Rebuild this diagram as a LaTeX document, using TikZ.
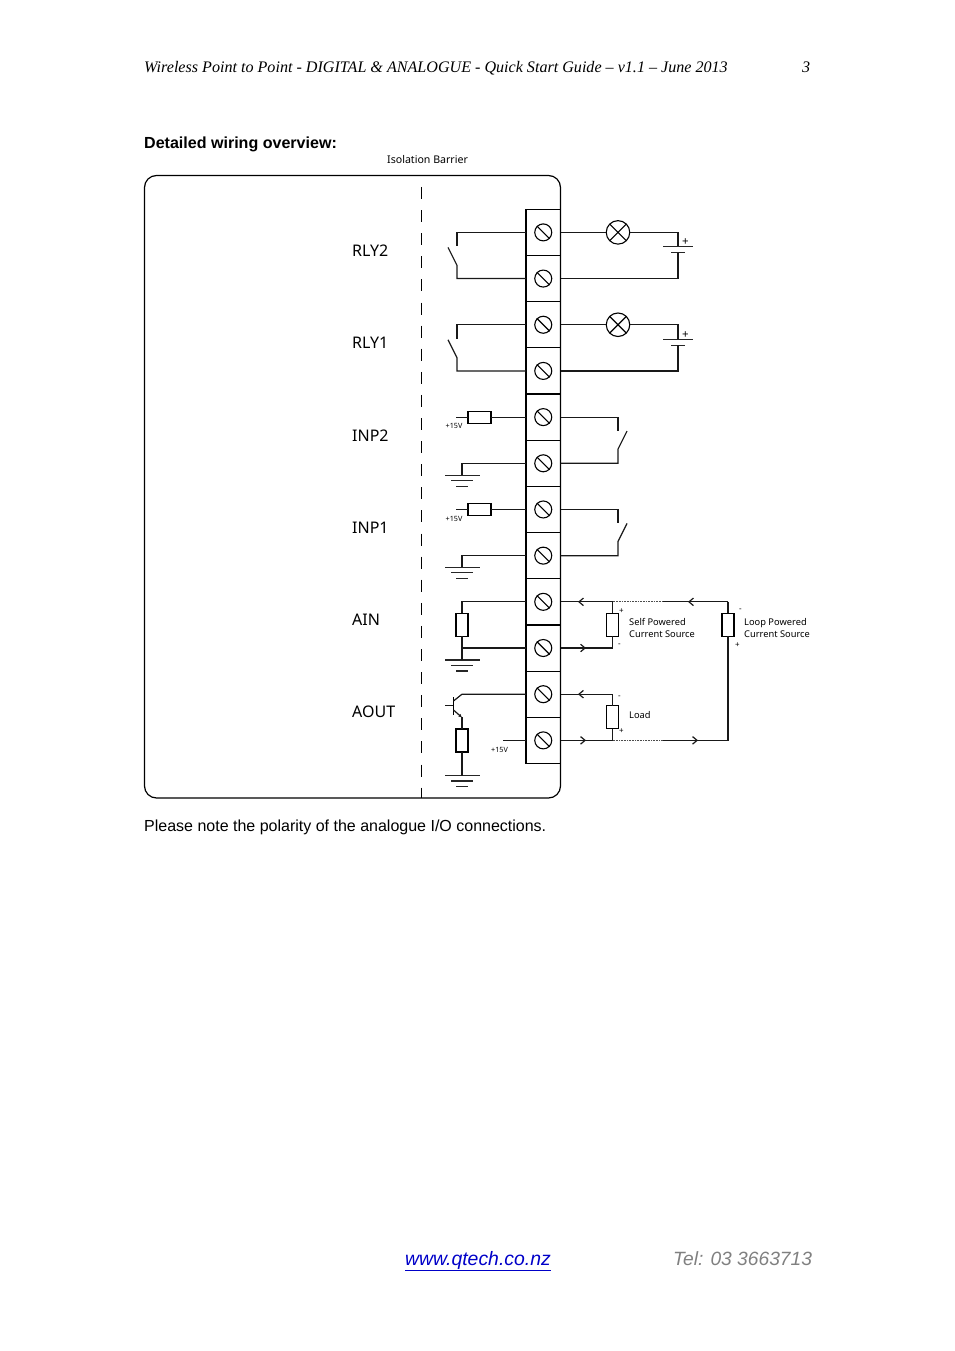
\documentclass[tikz,border=0pt]{standalone}
\usepackage{fontspec}
\setmainfont{Liberation Serif}
\setsansfont{Liberation Sans}
\newfontfamily\labelfont{Noto Sans}
\usetikzlibrary{arrows.meta}
\definecolor{linkblue}{RGB}{0,0,200}
\definecolor{telgrey}{RGB}{128,128,128}
\tikzset{
  x=1pt,y=-1pt,
  wire/.style={line width=1.2pt,black!90},
  plate/.style={line width=1.2pt,black!85},
  terminal/.style={draw,line width=1.2pt,minimum width=34.5pt,minimum height=46.18pt,inner sep=0,outer sep=0},
  screw/.style={draw,circle,line width=1.1pt,minimum size=17pt,inner sep=0},
  lamp/.style={draw,circle,line width=1.1pt,minimum size=23.5pt,inner sep=0,outer sep=0},
  res/.style={draw,fill=white,line width=1.2pt,inner sep=0,outer sep=0},
  vres/.style={res,minimum width=12pt,minimum height=23pt},
  hres/.style={res,minimum width=23pt,minimum height=12pt},
  head/.style={anchor=base west,inner sep=0,font=\rmfamily\itshape\fontsize{16.1}{18}\selectfont},
  body/.style={anchor=base west,inner sep=0,font=\sffamily\fontsize{16}{19}\selectfont},
  sig/.style={anchor=base west,inner sep=0,font=\labelfont\fontsize{16}{18}\selectfont},
  small/.style={anchor=base west,inner sep=0,font=\labelfont\fontsize{9.3}{11}\selectfont},
  tiny/.style={anchor=center,inner sep=0,font=\labelfont\fontsize{7.2}{8}\selectfont},
  pol/.style={anchor=center,inner sep=0,font=\labelfont\fontsize{8}{8}\selectfont},
  tip/.style={wire,-{Straight Barb[length=4.5pt,width=7.5pt]}},
}
\newcommand{\gnd}[2]{%
  \coordinate (#1) at (462,#2);
  \draw[plate] (445,#2) -- (480,#2);
  \draw[plate] (451,#2+5.5) -- (473,#2+5.5);
  \draw[plate] (456,#2+11) -- (468,#2+11);
}
\begin{document}
\begin{tikzpicture}
\useasboundingbox (0,0) rectangle (954,1351);
% texts
\node[head] (hdr) at (144,72.5) {Wireless Point to Point - DIGITAL \& ANALOGUE - Quick Start Guide – v1.1 – June 2013};
\node[head] (pg) at (802,72.5) {3};
\node[body,font=\sffamily\bfseries\fontsize{16.05}{19}\selectfont] (ttl) at (144,148.5) {Detailed wiring overview:};
\node[small,font=\labelfont\fontsize{10.6}{13}\selectfont] (iso) at (387,164) {Isolation Barrier};
\node[body] (note) at (144,831) {Please note the polarity of the analogue I/O connections.};
\node[body,font=\sffamily\itshape\fontsize{19.4}{22}\selectfont,text=linkblue] (web) at (405,1265) {\underline{www.qtech.co.nz}};
\node[body,font=\sffamily\itshape\fontsize{19.2}{22}\selectfont,text=telgrey] (tel) at (673,1265) {Tel: 03 3663713};
% enclosure
\draw[line width=1.2pt,rounded corners=12pt] (144.5,175.5) rectangle (560.5,798);
\coordinate (bartop) at (421.5,187);
\coordinate (barbot) at (421.5,798);
\draw[line width=1.1pt,dash pattern=on 12pt off 11.1pt] (bartop) -- (barbot);
% terminals
\foreach \i in {1,...,12}{
  \node[terminal] (t\i) at (543.25,{209.3+(\i-0.5)*46.18}) {};
  \node[screw] (s\i) at (t\i.center) {};
  \draw[line width=1.1pt] (s\i.135) -- (s\i.-45);
}
% signal names
\node[sig] (l1) at (352,256) {RLY2};
\node[sig] (l2) at (352,348.5) {RLY1};
\node[sig] (l3) at (352,441) {INP2};
\node[sig] (l4) at (352,533) {INP1};
\node[sig] (l5) at (352,625) {AIN};
\node[sig] (l6) at (352,717.5) {AOUT};
% relays, inner side and lamp loops
\foreach \a/\b in {1/2,3/4}{
  \path (t\a.west) coordinate (p);
  \draw[wire] (t\a.west) -| (457,0 |- p) -- ++(0,14) coordinate (c2);
  \draw[wire] (c2) ++(-9,1) -- ++(9,18) coordinate (c4) |- (t\b.west);
  \node[lamp] (la\a) at (618,0 |- p) {};
  \draw[line width=1.1pt] (la\a.45) -- (la\a.225) (la\a.135) -- (la\a.-45);
  \draw[wire] (t\a.east) -- (la\a.west);
  \draw[wire] (la\a.east) -- (678,0 |- p) -- ++(0,14.5) coordinate (c6);
  \draw[plate] (c6) ++(-15,0) -- ++(30,0);
  \draw[plate] (c6) ++(-7,6) coordinate (c7) -- ++(14,0);
  \draw[wire] (c7) ++(7,0) coordinate (c8) |- (t\b.east);
  \path (c6) ++(7.5,-4.5) node[pol,font=\labelfont\fontsize{11.5}{10}\selectfont] (pl\a) {+};
}
% digital inputs
\foreach \a/\b/\g in {5/6/475.3,7/8/567.3}{
  \path (t\a.west) coordinate (p);
  \node[hres] (r\a) at (479.5,0 |- p) {};
  \path (456,0 |- p) coordinate (sup\a);
  \draw[wire] (sup\a) -- (r\a.west);
  \draw[wire] (r\a.east) -- (t\a.west);
  \path (454,0 |- p) ++(0,9.3) node[tiny] (v\a) {+15V};
  \gnd{g\a}{\g}
  \draw[wire] (t\b.west) -| (g\a);
  \path (618,0 |- p) coordinate (q);
  \draw[wire] (t\a.east) -- (q) -- ++(0,13.5);
  \path (q) ++(9,14) coordinate (q1) ++(-9,18) coordinate (q2);
  \draw[wire] (q1) -- (q2) |- (t\b.east);
}
% AIN inner
\gnd{g9}{660}
\node[vres] (r9) at (462,624.7) {};
\draw[wire] (t9.west) -| (r9.north);
\draw[wire] (r9.south) -- (g9);
\draw[wire] (t10.west) -- (462,0 |- t10.west);
% AOUT inner
\gnd{g11}{775.5}
\coordinate (base) at (445,705.7);
\coordinate (bj) at (453.5,705.7);
\draw[wire] (base) -- (bj);
\draw[line width=1.6pt] (453.5,697) -- (453.5,715);
\path (462,0 |- t11.west) coordinate (col);
\draw[wire] (453.5,701) -- (col) -- (t11.west);
\node[vres] (r11) at (462,740.5) {};
\draw[wire,-{Latex[length=3.5pt,width=3.5pt]}] (453.5,710) -- (462,717.5);
\draw[wire] (462,717) -- (r11.north);
\draw[wire] (r11.south) -- (g11);
\path (503,0 |- t12.west) coordinate (sup12);
\draw[wire] (sup12) -- (t12.west);
\node[tiny] (v12) at (499.5,749.5) {+15V};
% outer analogue loops
\node[vres] (rs) at (612.5,624.7) {};
\node[vres] (rl) at (612.5,717.2) {};
\node[vres] (rp) at (728,624.7) {};
\path (612.5,0 |- t9.east) coordinate (j9);
\path (612.5,0 |- t10.east) coordinate (j10);
\path (612.5,0 |- t11.east) coordinate (j11);
\path (612.5,0 |- t12.east) coordinate (j12);
\path (728,0 |- t9.east) coordinate (k9);
\path (728,0 |- t12.east) coordinate (k12);
\path (663,0 |- t9.east) coordinate (d9);
\path (663,0 |- t12.east) coordinate (d12);
% top rail, flowing left
\draw[wire] (k9) -- (d9);
\draw[line width=1.2pt,black!70,dash pattern=on 1pt off 0.6pt] (d9) -- (j9);
\draw[wire] (j9) -- (t9.east);
\draw[tip] (k9) -- (688,0 |- k9);
\draw[tip] (j9) -- (578,0 |- j9);
\draw[wire] (j9) -- (rs.north);
\draw[wire] (k9) -- (rp.north);
\draw[wire] (rs.south) -- (j10) -- (t10.east);
\draw[tip] (t10.east) -- (586,0 |- t10.east);
% load
\draw[wire] (t11.east) -- (j11) -- (rl.north);
\draw[tip] (j11) -- (578,0 |- j11);
\draw[wire] (rl.south) -- (j12) -- (t12.east);
\draw[tip] (t12.east) -- (586,0 |- t12.east);
% bottom rail
\draw[line width=1.2pt,black!70,dash pattern=on 1pt off 0.6pt] (j12) -- (d12);
\draw[wire] (d12) -- (k12) -- (rp.south);
\draw[tip] (d12) -- (698,0 |- d12);
% small labels
\node[small] (ls1) at (629,625) {Self Powered};
\node[small] (ls2) at (629,637) {Current Source};
\node[small] (lp1) at (744,625) {Loop Powered};
\node[small] (lp2) at (744,637) {Current Source};
\node[small] (ll) at (629,718) {Load};
\node[pol] (a1) at (621.5,611) {+};
\node[pol] (a2) at (619.5,645.5) {-};
\node[pol] (a3) at (740.5,610) {-};
\node[pol] (a4) at (737.5,645.5) {+};
\node[pol] (a5) at (619.5,697) {-};
\node[pol] (a6) at (621.5,731.5) {+};
\end{tikzpicture}
\end{document}
